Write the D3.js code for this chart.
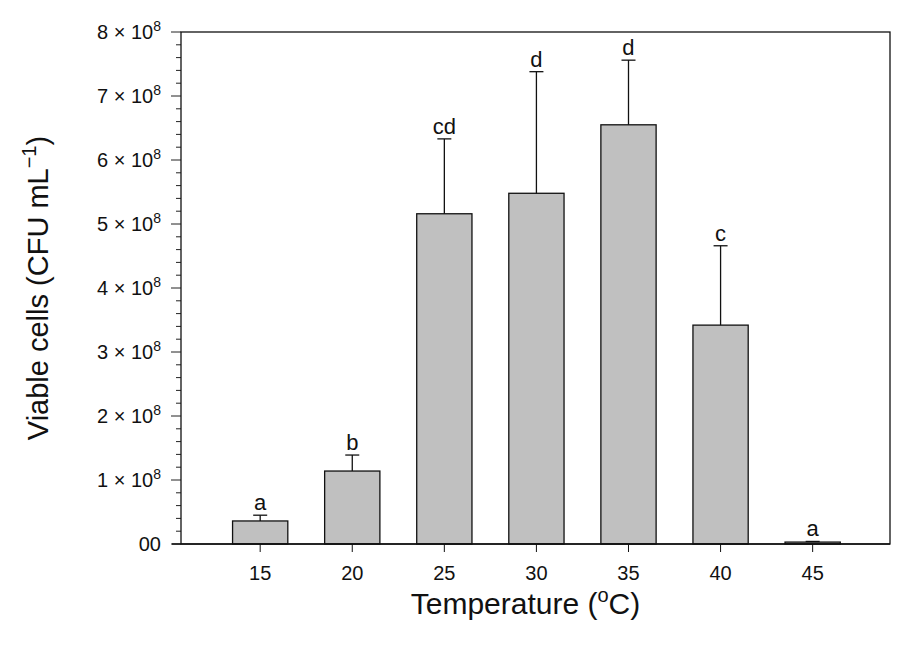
<!DOCTYPE html>
<html><head><meta charset="utf-8">
<script src="https://cdn.jsdelivr.net/npm/d3@7"></script>
<style>body{margin:0;background:#fff}text{font-family:Arial,"Liberation Sans",sans-serif;fill:#111}</style>
</head><body><svg id="c" width="910" height="653"></svg>
<script>
// viable cells per temperature (x 10^8), mean and mean+SD
const data = [
  {t:15, v:0.36, e:0.45, g:"a"},
  {t:20, v:1.14, e:1.39, g:"b"},
  {t:25, v:5.16, e:6.33, g:"cd"},
  {t:30, v:5.48, e:7.38, g:"d"},
  {t:35, v:6.55, e:7.56, g:"d"},
  {t:40, v:3.42, e:4.66, g:"c"},
  {t:45, v:0.03, e:0.04, g:"a"}
];
const m = {left:181, right:890, top:32, bottom:544};
const svg = d3.select("#c");
const x = d3.scaleLinear().domain([10.7, 49.2]).range([m.left, m.right]);
const y = d3.scaleLinear().domain([0, 8]).range([m.bottom, m.top]);
const bw = x(18) - x(15);

// minor + major ticks on y
svg.append("g").selectAll("line").data(d3.range(0, 8.01, 0.2)).enter().append("line")
  .attr("x1", d => Math.abs(d - Math.round(d)) < 1e-6 ? m.left - 10 : m.left - 5)
  .attr("x2", m.left).attr("y1", d => y(d)).attr("y2", d => y(d))
  .attr("stroke", "#222");

const yl = svg.append("g").selectAll("text").data(d3.range(0, 9)).enter().append("text")
  .attr("x", m.left - 20).attr("y", d => y(d) + 7)
  .attr("text-anchor", "end").style("font-size", "20px");
yl.each(function(d) {
  const t = d3.select(this);
  if (d === 0) { t.text("00"); return; }
  t.text(d + " \u00d7 10");
  t.append("tspan").attr("dy", -8).style("font-size", "14px").text("8");
});

// bars
svg.append("g").selectAll("rect").data(data).enter().append("rect")
  .attr("x", d => x(d.t) - bw / 2).attr("y", d => y(d.v))
  .attr("width", bw).attr("height", d => y(0) - y(d.v))
  .attr("fill", "#c0c0c0").attr("stroke", "#111").attr("stroke-width", 1.3);

// error bars
const eb = svg.append("g").attr("stroke", "#111").attr("stroke-width", 1.3);
data.forEach(d => {
  eb.append("line").attr("x1", x(d.t)).attr("x2", x(d.t)).attr("y1", y(d.v)).attr("y2", y(d.e));
  eb.append("line").attr("x1", x(d.t) - 7).attr("x2", x(d.t) + 7).attr("y1", y(d.e)).attr("y2", y(d.e));
});
svg.append("g").selectAll("text").data(data).enter().append("text")
  .attr("x", d => x(d.t)).attr("y", d => y(d.e) - 5)
  .attr("text-anchor", "middle").style("font-size", "22px").text(d => d.g);

// frame and x axis
svg.append("rect").attr("x", m.left).attr("y", m.top)
  .attr("width", m.right - m.left).attr("height", m.bottom - m.top)
  .attr("fill", "none").attr("stroke", "#111").attr("stroke-width", 1.3);
svg.append("line").attr("x1", m.left - 9).attr("x2", m.right)
  .attr("y1", m.bottom).attr("y2", m.bottom).attr("stroke", "#111").attr("stroke-width", 1.5);
svg.append("g").selectAll("line").data(data).enter().append("line")
  .attr("x1", d => x(d.t)).attr("x2", d => x(d.t))
  .attr("y1", m.bottom).attr("y2", m.bottom + 8).attr("stroke", "#111");
svg.append("g").selectAll("text").data(data).enter().append("text")
  .attr("x", d => x(d.t)).attr("y", m.bottom + 36)
  .attr("text-anchor", "middle").style("font-size", "20px").text(d => d.t);

// axis titles
const xt = svg.append("text").attr("x", (m.left + m.right) / 2 - 10).attr("y", 614)
  .attr("text-anchor", "middle").style("font-size", "30px").text("Temperature (");
xt.append("tspan").attr("dy", -12).style("font-size", "20px").text("o");
xt.append("tspan").attr("dy", 12).text("C)");

const yt = svg.append("text").attr("transform", "translate(48," + (m.top + m.bottom) / 2 + ") rotate(-90)")
  .attr("text-anchor", "middle").style("font-size", "29px").text("Viable cells (CFU mL");
yt.append("tspan").attr("dy", -12).style("font-size", "20px").text("\u22121");
yt.append("tspan").attr("dy", 12).text(")");
</script></body></html>
